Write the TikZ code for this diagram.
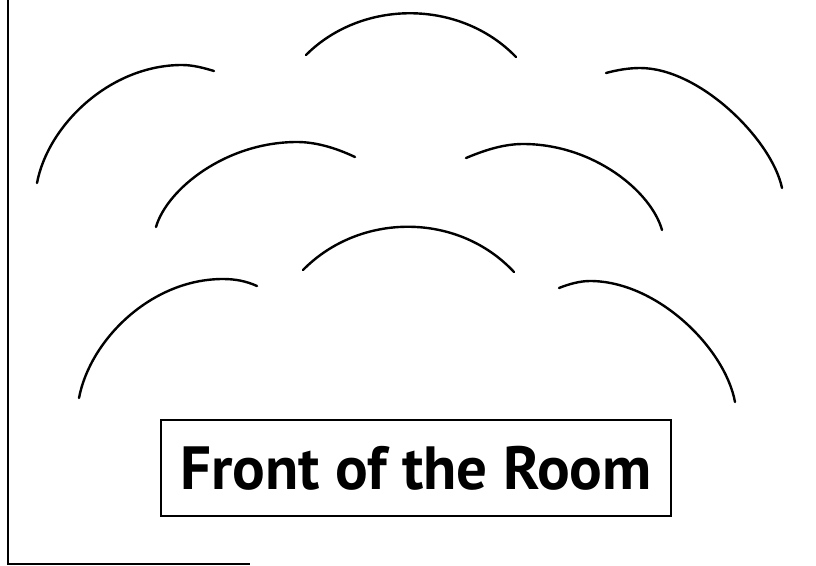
\documentclass[tikz,border=0pt]{standalone}
\usepackage{fontspec}
\setmainfont{PT Sans}
\begin{document}
\begin{tikzpicture}[x=1pt,y=-1pt,
  seat/.style={line width=2.4pt,line cap=round,black},
  wall/.style={line width=2pt,black},
  titlebox/.style={draw,line width=1.6pt,minimum width=510pt,minimum height=96pt,inner sep=0pt,font=\bfseries\fontsize{61}{68}\selectfont}]
\useasboundingbox (0,0) rectangle (816,565);
% room wall
\draw[wall] (7.5,0) -- (7.5,563.5) -- (250,563.5);
% row 1
\draw[seat] (37,183) .. controls (48,125) and (110,65) .. (182,65) .. controls (193,65) and (204,68) .. (214,71);
\draw[seat] (306,55) .. controls (362,-1) and (460,-1) .. (516,57);
\draw[seat] (606,73) .. controls (617,70) and (629,68) .. (640,68) .. controls (700,68) and (772,140) .. (782,188);
% row 2
\draw[seat] (156,227) .. controls (167,189) and (226,142) .. (297,142) .. controls (316,142) and (336,148) .. (355,157);
\draw[seat] (466,158) .. controls (485,150) and (504,144) .. (523,144) .. controls (593,144) and (651,191) .. (662,230);
% row 3
\draw[seat] (303,270) .. controls (360,212) and (458,212) .. (514,272);
\draw[seat] (79,398) .. controls (90,340) and (151,279) .. (223,279) .. controls (235,279) and (246,281) .. (257,286);
\draw[seat] (559,288) .. controls (569,284) and (580,281) .. (590,281) .. controls (657,281) and (725,348) .. (735,402);
% front
\node[titlebox] (front) at (416,468) {Front of the Room};
\end{tikzpicture}
\end{document}
